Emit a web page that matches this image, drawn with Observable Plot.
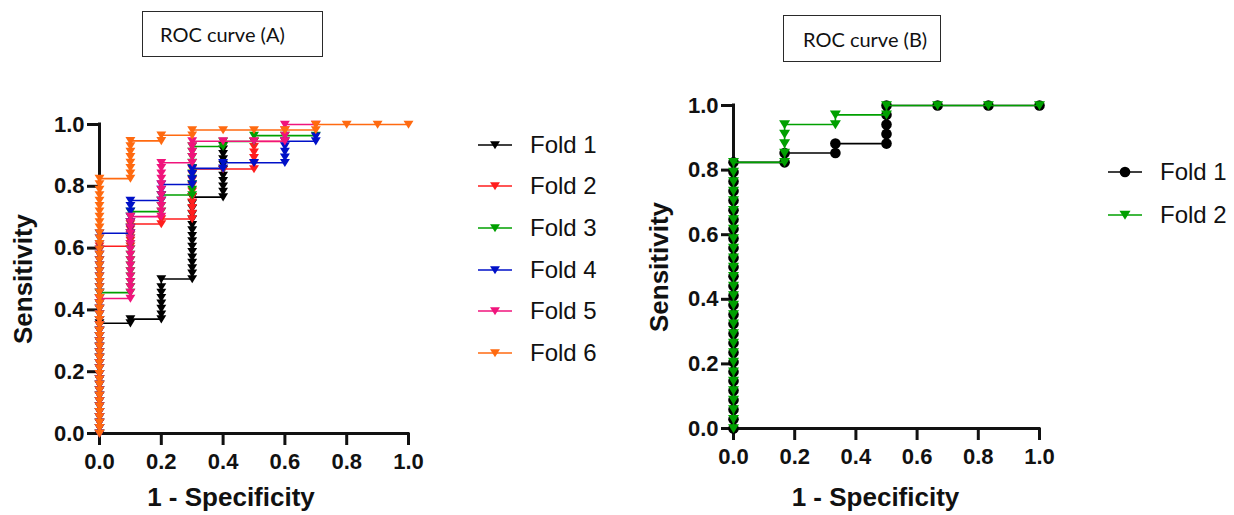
<!DOCTYPE html>
<html><head><meta charset="utf-8">
<script src="https://cdn.jsdelivr.net/npm/d3@7"></script>
<script src="https://cdn.jsdelivr.net/npm/@observablehq/plot@0.6"></script>
<style>
body{margin:0;background:#fff;}
#wrap{position:relative;width:1234px;height:515px;overflow:hidden;background:#fff;font-family:"Liberation Sans",Arial,sans-serif;}
.panel{position:absolute;top:0;}
.tbox{position:absolute;border:1.5px solid #2a2a2a;box-sizing:border-box;font-family:Lato,"Open Sans",sans-serif;font-size:20px;color:#111;display:flex;align-items:center;}
.legend{position:absolute;font-family:"Liberation Sans",Arial,sans-serif;font-size:24px;color:#111;}
.legend .row{display:flex;align-items:center;}
.legend svg{flex:none;}
</style>
</head><body>
<div id="wrap"></div>
<script>
// ---------- data ----------
const axisTicks = [0, 0.2, 0.4, 0.6, 0.8, 1.0];
const titleA = "ROC curve (A)";
const titleB = "ROC curve (B)";
const xLabel = "1 - Specificity";
const yLabel = "Sensitivity";

const foldNamesA = ["Fold 1", "Fold 2", "Fold 3", "Fold 4", "Fold 5", "Fold 6"];
// each step: [1 - specificity, [sensitivity values at that threshold column]]
const foldA1 = [
  [0, [0,.018,.035,.053,.070,.088,.105,.123,.140,.158,.175,.193,.211,.228,.246,.263,.281,.298,.316,.333,.357]],
  [0.1, [.357,.370]],
  [0.2, [.370,.386,.404,.421,.439,.456,.474,.500]],
  [0.3, [.500,.518,.535,.553,.570,.588,.605,.623,.640,.658,.675,.693,.710,.728,.745,.765]],
  [0.4, [.765,.783,.800,.818,.835,.853,.870,.888,.905,.920,.932]]
];
const foldA2 = [
  [0, [0,.018,.035,.053,.070,.088,.105,.123,.140,.158,.175,.193,.211,.228,.246,.263,.281,.298,.316,.333,.351,.368,.386,.404,.421,.439,.456,.474,.491,.509,.526,.544,.561,.579,.593,.606]],
  [0.1, [.606,.624,.642,.660,.678]],
  [0.2, [.678,.694]],
  [0.3, [.694,.712,.730,.748,.766,.784,.802,.820,.838,.856]],
  [0.4, [.856]],
  [0.5, [.856,.874,.892,.910,.928,.945]],
  [0.6, [.945]]
];
const foldA3 = [
  [0, [0,.018,.035,.053,.070,.088,.105,.123,.140,.158,.175,.193,.211,.228,.246,.263,.281,.298,.316,.333,.351,.368,.386,.404,.421,.439,.456]],
  [0.1, [.456,.474,.491,.509,.526,.544,.561,.579,.596,.614,.632,.649,.667,.684,.702,.718]],
  [0.2, [.718,.737,.754,.772]],
  [0.3, [.772,.789,.807,.825,.842,.860,.877,.895,.912,.929]],
  [0.4, [.929,.945]],
  [0.5, [.945,.964]],
  [0.6, [.964]],
  [0.7, [.964]]
];
const foldA4 = [
  [0, [0,.018,.035,.053,.070,.088,.105,.123,.140,.158,.175,.193,.211,.228,.246,.263,.281,.298,.316,.333,.351,.368,.386,.404,.421,.439,.456,.474,.491,.509,.526,.544,.561,.579,.596,.614,.632,.648]],
  [0.1, [.648,.666,.684,.702,.719,.737,.754]],
  [0.2, [.754,.772,.789,.806]],
  [0.3, [.806,.823,.840,.858]],
  [0.4, [.858,.876]],
  [0.5, [.876]],
  [0.6, [.876,.894,.912,.930,.946]],
  [0.7, [.946,.962]]
];
const foldA5 = [
  [0, [0,.018,.035,.053,.070,.088,.105,.123,.140,.158,.175,.193,.211,.228,.246,.263,.281,.298,.316,.333,.351,.368,.386,.404,.421,.437]],
  [0.1, [.437,.456,.474,.491,.509,.526,.544,.561,.579,.596,.614,.632,.649,.667,.684,.702]],
  [0.2, [.702,.719,.737,.754,.772,.789,.807,.825,.842,.860,.876]],
  [0.3, [.876,.895,.912,.930,.946]],
  [0.4, [.946]],
  [0.5, [.946]],
  [0.6, [.946,.964,.982,1]],
  [0.7, [1]]
];
const foldA6 = [
  [0, [0,.018,.035,.053,.070,.088,.105,.123,.140,.158,.175,.193,.211,.228,.246,.263,.281,.298,.316,.333,.351,.368,.386,.404,.421,.439,.456,.474,.491,.509,.526,.544,.561,.579,.596,.614,.632,.649,.667,.684,.702,.719,.737,.754,.772,.789,.807,.825]],
  [0.1, [.825,.842,.860,.877,.895,.912,.930,.947]],
  [0.2, [.947,.965]],
  [0.3, [.965,.982]],
  [0.4, [.982]],
  [0.5, [.982]],
  [0.6, [.982]],
  [0.7, [.982,1]],
  [0.8, [1]],
  [0.9, [1]],
  [1.0, [1]]
];

const foldNamesB = ["Fold 1", "Fold 2"];
const foldB1 = [
  [0, [0,.029,.059,.088,.118,.147,.176,.206,.235,.265,.294,.324,.353,.382,.412,.441,.471,.5,.529,.559,.588,.618,.647,.676,.706,.735,.765,.794,.824]],
  [0.167, [.824,.853]],
  [0.333, [.853,.882]],
  [0.5, [.882,.912,.941,.971,1]],
  [0.667, [1]],
  [0.833, [1]],
  [1.0, [1]]
];
const foldB2 = [
  [0, [0,.029,.059,.088,.118,.147,.176,.206,.235,.265,.294,.324,.353,.382,.412,.441,.471,.5,.529,.559,.588,.618,.647,.676,.706,.735,.765,.794,.824]],
  [0.167, [.824,.853,.882,.912,.941]],
  [0.333, [.941,.971]],
  [0.5, [.971,1]],
  [0.667, [1]],
  [0.833, [1]],
  [1.0, [1]]
];

// ---------- styles ----------
const colorsA = ["#000000", "#ff1e1e", "#00a000", "#0010c8", "#f0147c", "#ff6a10"];
const colorsB = ["#000000", "#00a000"];

const triDown = {
  draw(ctx, size) {
    const r = Math.sqrt(size / Math.PI);
    ctx.moveTo(-1.1 * r, -0.85 * r);
    ctx.lineTo(1.1 * r, -0.85 * r);
    ctx.lineTo(0, 0.95 * r);
    ctx.closePath();
  }
};

function toRows(name, steps) {
  const out = [];
  steps.forEach(([fpr, tprs]) => tprs.forEach(t => out.push({fold: name, fpr, tpr: t})));
  return out;
}

function makePanel(cfg) {
  const marks = [
    Plot.ruleX([0], {y1: 0, y2: 1, strokeWidth: 3, strokeLinecap: "square"}),
    Plot.ruleY([0], {x1: 0, x2: 1, strokeWidth: 3, strokeLinecap: "square"}),
    Plot.axisX({ticks: axisTicks, tickSize: 12, strokeWidth: 3, tickPadding: 8, tickFormat: d3.format(".1f"), label: null, fontSize: 22, fontWeight: "bold"}),
    Plot.axisY({ticks: axisTicks, tickSize: 12, strokeWidth: 3, tickPadding: 3, tickFormat: d3.format(".1f"), label: null, fontSize: 22, fontWeight: "bold"})
  ];
  cfg.series.forEach((s, i) => {
    marks.push(Plot.line(s.rows, {x: "fpr", y: "tpr", stroke: cfg.colors[i], strokeWidth: 1.6}));
    marks.push(Plot.dot(s.rows, {x: "fpr", y: "tpr", fill: cfg.colors[i], symbol: cfg.symbols[i], r: cfg.r[i]}));
  });
  marks.push(Plot.text([yLabel], {text: d => d, frameAnchor: "left", textAnchor: "middle", lineAnchor: "middle", rotate: -90, dx: cfg.yTitleDx, fontSize: 26, fontWeight: "bold"}));
  marks.push(Plot.text([xLabel], {text: d => d, frameAnchor: "bottom", textAnchor: "middle", lineAnchor: "middle", dx: cfg.xTitleDx, dy: cfg.xTitleDy, fontSize: 26, fontWeight: "bold"}));
  return Plot.plot({
    width: cfg.width, height: 515,
    marginLeft: cfg.marginLeft, marginRight: cfg.marginRight,
    marginTop: cfg.marginTop, marginBottom: cfg.marginBottom,
    x: {domain: [0, 1]}, y: {domain: [0, 1]},
    style: {fontFamily: "'Liberation Sans', Arial, sans-serif", background: "transparent", color: "#111", overflow: "visible"},
    marks
  });
}

function legend(names, colors, symbols, r, rowH) {
  const div = document.createElement("div");
  div.className = "legend";
  names.forEach((n, i) => {
    const row = document.createElement("div");
    row.className = "row";
    row.style.height = rowH + "px";
    const svg = d3.create("svg").attr("width", 54).attr("height", 20);
    svg.append("line").attr("x1", 2).attr("x2", 36).attr("y1", 10).attr("y2", 10).attr("stroke", colors[i]).attr("stroke-width", 1.6);
    const sym = symbols[i] === "circle" ? d3.symbolCircle : triDown;
    svg.append("path").attr("transform", "translate(19,10)").attr("d", d3.symbol(sym, Math.PI * r[i] * r[i])()).attr("fill", colors[i]);
    row.appendChild(svg.node());
    const t = document.createElement("span");
    t.textContent = n;
    row.appendChild(t);
    div.appendChild(row);
  });
  return div;
}

const wrap = document.getElementById("wrap");

// Panel A
const seriesA = [foldA1, foldA2, foldA3, foldA4, foldA5, foldA6].map((f, i) => ({rows: toRows(foldNamesA[i], f)}));
const plotA = makePanel({
  series: seriesA, colors: colorsA, symbols: foldNamesA.map(() => triDown), r: foldNamesA.map(() => 4.5),
  width: 440, marginLeft: 99, marginRight: 32, marginTop: 124, marginBottom: 82,
  yTitleDx: -76, xTitleDx: -23, xTitleDy: 64
});
plotA.classList.add("panel");
plotA.style.left = "0px";
wrap.appendChild(plotA);

// Panel B
const seriesB = [foldB1, foldB2].map((f, i) => ({rows: toRows(foldNamesB[i], f)}));
const plotB = makePanel({
  series: seriesB, colors: colorsB, symbols: ["circle", triDown], r: [5.3, 5],
  width: 439, marginLeft: 113, marginRight: 20, marginTop: 105, marginBottom: 87,
  yTitleDx: -74, xTitleDx: -11, xTitleDy: 69
});
plotB.classList.add("panel");
plotB.style.left = "620px";
wrap.appendChild(plotB);

// Title boxes
function titleBox(text, left, top, w, h, pad) {
  const d = document.createElement("div");
  d.className = "tbox";
  Object.assign(d.style, {left: left + "px", top: top + "px", width: w + "px", height: h + "px", paddingLeft: pad + "px"});
  d.textContent = text;
  wrap.appendChild(d);
}
titleBox(titleA, 142, 11, 181, 46, 17);
titleBox(titleB, 783, 15, 158, 47, 19);

// Legends
const legA = legend(foldNamesA, colorsA, foldNamesA.map(() => "tri"), foldNamesA.map(() => 4.5), 41.6);
Object.assign(legA.style, {left: "476px", top: "124px"});
wrap.appendChild(legA);
const legB = legend(foldNamesB, colorsB, ["circle", "tri"], [5.3, 5], 43);
Object.assign(legB.style, {left: "1106px", top: "150px"});
wrap.appendChild(legB);
</script>
</body></html>
